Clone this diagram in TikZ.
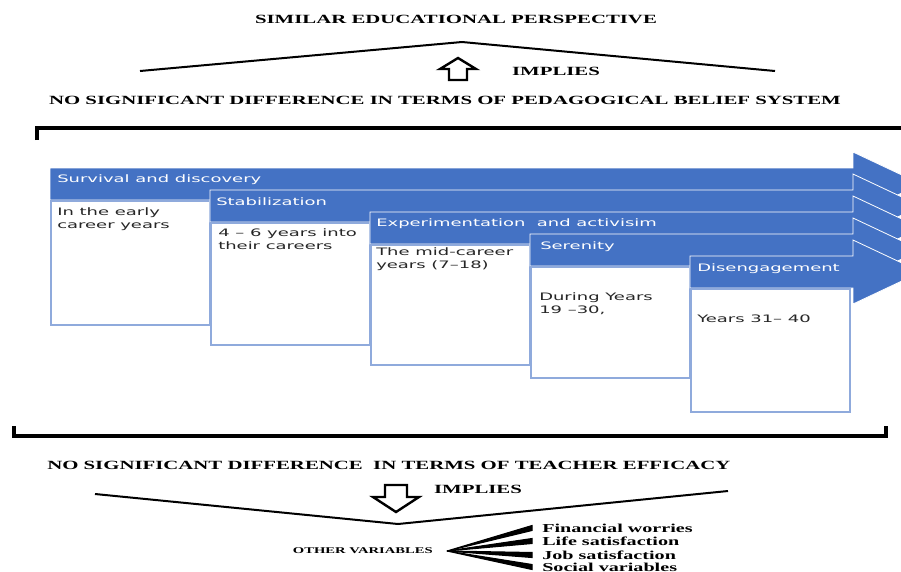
\documentclass[tikz,border=0pt]{standalone}
\usepackage{fontspec}
\setmainfont[FakeStretch=1.66]{Liberation Serif}
\newfontfamily\boxfont[FakeStretch=1.75]{DejaVu Sans}
\usetikzlibrary{arrows}
\definecolor{stageblue}{HTML}{4472C4}
\definecolor{edgeblue}{HTML}{8FAADC}

\begin{document}
\begin{tikzpicture}[x=0.75pt,y=-0.75pt]
\tikzstyle{every node}=[inner sep=0pt]
\tikzstyle{caps}=[font=\fontsize{9.4}{11}\selectfont\bfseries]
\tikzstyle{item}=[font=\fontsize{9.1}{10}\selectfont\bfseries, anchor=west]
\tikzstyle{minor}=[font=\fontsize{6.6}{8}\selectfont\bfseries]
\tikzstyle{stage}=[fill=stageblue, draw=white, line width=0.6pt]
\tikzstyle{period}=[fill=white, draw=edgeblue, line width=0.8pt]
\tikzstyle{head}=[font=\boxfont\fontsize{7.7}{9.8}\selectfont, text=white, anchor=west]
\tikzstyle{note}=[font=\boxfont\fontsize{7.7}{9.8}\selectfont, text=black!85, anchor=north west, align=left]
\tikzstyle{roof}=[line width=1.5pt]
\tikzstyle{bracket}=[line width=3pt]
\tikzstyle{hollow}=[line width=1.8pt, line join=miter]
\useasboundingbox (0,0) rectangle (901,572);
\clip (0,0) rectangle (901,572);
\foreach \x/\y/\b in {50/168/325, 210/190/345, 370/212/365, 530/234/378, 690/256/412} {
  \draw[stage] (\x,\y) -- (853,\y) -- (853,\y-16) -- (921,\y+16) -- (853,\y+48) -- (853,\y+32) -- (\x,\y+32) -- cycle;
  \draw[period] (\x+1,\y+33) rectangle (\x+160,\b);
}
\draw (57,180) node (s1) [head] {Survival and discovery};
\draw (216,202) node (s2) [head] {Stabilization};
\draw (376,224) node (s3) [head] {Experimentation~ and activisim};
\draw (540,247) node (s4) [head] {Serenity};
\draw (697,269) node (s5) [head] {Disengagement};
\draw (57,207) node (n1) [note] {In the early\\career years};
\draw (218,228) node (n2) [note] {4 – 6 years into\\their careers};
\draw (376,247) node (n3) [note] {The mid-career\\years (7–18)};
\draw (539,292) node (n4) [note] {During Years\\19 –30,};
\draw (697,315) node (n5) [note] {Years 31– 40};
\draw (456,19) node (similar) [caps] {SIMILAR EDUCATIONAL PERSPECTIVE};
\draw[roof] (140,71) -- (462,42) -- (775,71);
\draw[hollow] (458,58) -- (476,69) -- (467,69) -- (467,80) -- (449,80) -- (449,69) -- (440,69) -- cycle;
\draw (556,71) node (implies1) [caps] {IMPLIES};
\draw (445,100) node (belief) [caps] {NO SIGNIFICANT DIFFERENCE IN TERMS OF PEDAGOGICAL BELIEF SYSTEM};
\draw[bracket] (37,140) -- (37,128) -- (901,128);
\draw[bracket] (14,426) -- (14,436) -- (886,436) -- (886,426);
\draw (47,465) node (efficacy) [caps, anchor=west] {NO SIGNIFICANT DIFFERENCE \ IN TERMS OF TEACHER EFFICACY};
\draw[roof] (95,494) -- (398,524) -- (728,491);
\draw[hollow] (396,512) -- (419,497) -- (407,497) -- (407,485) -- (385,485) -- (385,497) -- (373,497) -- cycle;
\draw (478,489) node (implies2) [caps] {IMPLIES};
\draw (433,551) node (other) [minor, anchor=east] {OTHER VARIABLES};
\draw (542,528) node (v1) [item] {Financial worries};
\draw (542,541) node (v2) [item] {Life satisfaction};
\draw (542,555) node (v3) [item] {Job satisfaction};
\draw (542,567) node (v4) [item] {Social variables};
\coordinate (hub) at (447,551);
\filldraw[line width=0.8pt] (hub) -- ([shift={(-10,-2.5)}]v1.west) -- ([shift={(-10,2.5)}]v1.west) -- cycle;
\filldraw[line width=0.8pt] (hub) -- ([shift={(-10,-2.5)}]v2.west) -- ([shift={(-10,2.5)}]v2.west) -- cycle;
\filldraw[line width=0.8pt] (hub) -- ([shift={(-10,-2.5)}]v3.west) -- ([shift={(-10,2.5)}]v3.west) -- cycle;
\filldraw[line width=0.8pt] (hub) -- ([shift={(-10,-2.5)}]v4.west) -- ([shift={(-10,2.5)}]v4.west) -- cycle;
\end{tikzpicture}
\end{document}
